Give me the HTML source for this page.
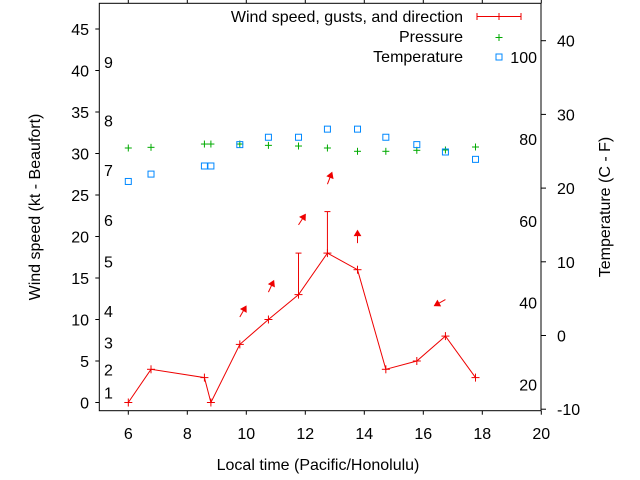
<!DOCTYPE html>
<html><head><meta charset="utf-8"><style>
body{margin:0;background:#fff}
svg{display:block;font-family:"Liberation Sans",sans-serif}
</style></head><body>
<svg id="chart" width="640" height="480" viewBox="0 0 640 480">
<rect width="640" height="480" fill="#fff"/>
<g id="axes"></g>
<g id="marks"></g>
<g>
<text x="463" y="22" font-size="16" text-anchor="end">Wind speed, gusts, and direction</text>
<g stroke="#e00" stroke-width="1"><line x1="477" y1="16.5" x2="521" y2="16.5"/><line x1="477" y1="13" x2="477" y2="20"/><line x1="521" y1="13" x2="521" y2="20"/><line x1="499" y1="13" x2="499" y2="20"/></g>
<text x="463" y="42" font-size="16" text-anchor="end">Pressure</text>
<g stroke="#0a0"><line x1="495.5" y1="37.5" x2="502.5" y2="37.5"/><line x1="499" y1="34" x2="499" y2="41"/></g>
<text x="463" y="62" font-size="16" text-anchor="end">Temperature</text>
<rect x="496" y="54" width="6" height="6" fill="none" stroke="#08f"/>
</g>
<text x="318" y="470" font-size="16" text-anchor="middle">Local time (Pacific/Honolulu)</text>
<text transform="translate(40,207) rotate(-90)" font-size="16" text-anchor="middle">Wind speed (kt - Beaufort)</text>
<text transform="translate(610,207) rotate(-90)" font-size="16" text-anchor="middle">Temperature (C - F)</text>
</svg>
<script>
const hours=[6.0,6.77,8.58,8.8,9.78,10.75,11.77,12.75,13.77,14.73,15.78,16.75,17.77];
const windKt=[0,4,3,0,7,10,13,18,16,4,5,8,3];
const gustHours=[11.77,12.75];
const gustKt=[18,23];
const arrowHours=[9.78,10.75,11.77,12.75,13.77,16.75];
const arrowKt=[10.3,13.3,21.4,26.3,19.2,12.4];
const arrowHeading=[30,25,33,21,0,241];
const pressureHpa=[1016,1016.2,1017.2,1017.2,1017.2,1016.8,1016.6,1016,1015,1015,1015.3,1015.4,1016.3];
const tempC=[20.9,21.9,23.0,23.0,25.9,26.9,26.9,28.0,28.0,26.9,25.9,24.9,23.9];
const xTicks=[6,8,10,12,14,16,18,20];
const yTicks=[0,5,10,15,20,25,30,35,40,45];
const cTicks=[-10,0,10,20,30,40];
const fLabels=[20,40,60,80,100];
const beaufortLabels=[1,2,3,4,5,6,7,8,9];
const beaufortKt=[1.2,4,7.2,11,17,22,28,34,41];

const L=99.3,R=541,T=3.3,B=410.7;
const X=h=>128.3+(h-6)*29.5;
const Y=k=>402.5-k*8.3;
const YC=c=>335.5-c*7.37;
const YP=p=>148-(p-1016)*3.3;
const NS="http://www.w3.org/2000/svg";
const axes=document.getElementById('axes'),marks=document.getElementById('marks');
function mk(tag,attrs,parent){const e=document.createElementNS(NS,tag);for(const k in attrs)e.setAttribute(k,attrs[k]);parent.appendChild(e);return e;}

let e=mk('rect',{x:L,y:T,width:R-L,height:B-T,fill:'none',stroke:'#000'},axes);


xTicks.forEach(v=>{
  let t=mk('line',{x1:X(v),x2:X(v),y1:B,y2:B+4,stroke:'#000'},axes);
  
  
  let t2=mk('line',{x1:X(v),x2:X(v),y1:T,y2:T-4,stroke:'#000'},axes);
  
  
  let l=mk('text',{x:X(v),y:439,'font-size':16,'text-anchor':'middle'},axes);l.textContent=v;
  
  
});
yTicks.forEach(v=>{
  let t=mk('line',{x1:L-4,x2:L,y1:Y(v),y2:Y(v),stroke:'#000'},axes);
  
  
  let l=mk('text',{x:89,y:Y(v)+6,'font-size':16,'text-anchor':'end'},axes);l.textContent=v;
  
  
});
cTicks.forEach(v=>{
  let t=mk('line',{x1:R,x2:R+5,y1:YC(v),y2:YC(v),stroke:'#000'},axes);
  
  
  let l=mk('text',{x:557,y:YC(v)+6,'font-size':16},axes);l.textContent=v;
  
  
});
fLabels.forEach(v=>{
  let l=mk('text',{x:537,y:YC((v-32)*5/9)+6,'font-size':16,'text-anchor':'end'},axes);l.textContent=v;
  
  
});
beaufortLabels.forEach((v,i)=>{
  let l=mk('text',{x:104,y:Y(beaufortKt[i])+6,'font-size':16},axes);l.textContent=v;
  
  
});

let pl=mk('polyline',{points:hours.map((h,i)=>X(h)+','+Y(windKt[i])).join(' '),fill:'none',stroke:'#e00','stroke-width':1},marks);


gustHours.forEach((h,i)=>{
  const idx=hours.indexOf(h);const x=X(h);
  let g=mk('g',{stroke:'#e00'},marks);
  
  
  mk('line',{x1:x,x2:x,y1:Y(windKt[idx]),y2:Y(gustKt[i])},g);
  mk('line',{x1:x-3,x2:x+3,y1:Y(gustKt[i]),y2:Y(gustKt[i])},g);
});
hours.forEach((h,i)=>{
  const x=X(h),y=Y(windKt[i]);
  let g=mk('g',{stroke:'#e00'},marks);
  
  
  mk('line',{x1:x-4,x2:x+4,y1:y,y2:y},g);mk('line',{x1:x,x2:x,y1:y-4,y2:y+4},g);
});
arrowHours.forEach((h,i)=>{
  const a=arrowHeading[i]*Math.PI/180,len=12.5;
  const x0=X(h),y0=Y(arrowKt[i]);
  const dx=Math.sin(a),dy=-Math.cos(a);
  const x1=x0+dx*len,y1=y0+dy*len;
  let g=mk('g',{},marks);
  
  
  mk('line',{x1:x0,y1:y0,x2:x1,y2:y1,stroke:'#e00'},g);
  const px=-dy,py=dx;
  const bx=x1-dx*5,by=y1-dy*5;
  mk('polygon',{points:`${x1},${y1} ${bx+px*3},${by+py*3} ${bx-px*3},${by-py*3}`,fill:'#e00',stroke:'#e00'},g);
});
hours.forEach((h,i)=>{
  const x=X(h),y=YP(pressureHpa[i]);
  let g=mk('g',{stroke:'#0a0'},marks);
  
  
  mk('line',{x1:x-3.5,x2:x+3.5,y1:y,y2:y},g);mk('line',{x1:x,x2:x,y1:y-3.5,y2:y+3.5},g);
});
hours.forEach((h,i)=>{
  const x=X(h),y=YC(tempC[i]);
  let r=mk('rect',{x:x-3,y:y-3,width:6,height:6,fill:'none',stroke:'#08f'},marks);
  
  
});
</script>
</body></html>
